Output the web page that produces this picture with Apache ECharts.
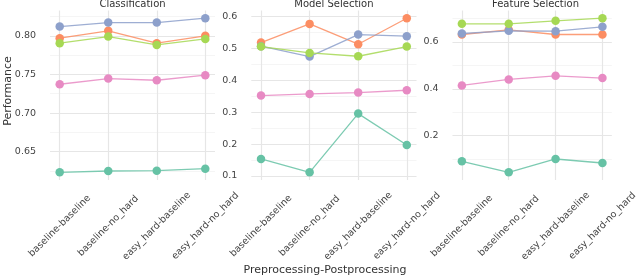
<!DOCTYPE html>
<html>
<head>
<meta charset="utf-8">
<script src="https://cdn.jsdelivr.net/npm/echarts@6/dist/echarts.min.js"></script>
<style>html,body{margin:0;padding:0;background:#fff}#c{width:640px;height:278px}</style>
</head>
<body>
<div id="c"></div>
<script>
const categories = ['baseline-baseline', 'baseline-no_hard', 'easy_hard-baseline', 'easy_hard-no_hard'];
const panelTitles = ['Classification', 'Model Selection', 'Feature Selection'];
const seriesNames = ['Series 1', 'Series 2', 'Series 3', 'Series 4', 'Series 5'];
const seriesColors = ['#66c2a5', '#fc8d62', '#8da0cb', '#e78ac3', '#a6d854'];

// Classification
const clsS1 = [0.6232, 0.6249, 0.6253, 0.6279];
const clsS2 = [0.7970, 0.8065, 0.7905, 0.8000];
const clsS3 = [0.8121, 0.8173, 0.8173, 0.8229];
const clsS4 = [0.7373, 0.7447, 0.7425, 0.7490];
const clsS5 = [0.7905, 0.7991, 0.7883, 0.7961];

// Model Selection
const msS1 = [0.1533, 0.1115, 0.2956, 0.1969];
const msS2 = [0.5184, 0.5770, 0.5132, 0.5948];
const msS3 = [0.5070, 0.4745, 0.5435, 0.5383];
const msS4 = [0.3520, 0.3573, 0.3615, 0.3688];
const msS5 = [0.5059, 0.4860, 0.4755, 0.5059];

// Feature Selection
const fsS1 = [0.0908, 0.0440, 0.1007, 0.0837];
const fsS2 = [0.6312, 0.6511, 0.6312, 0.6312];
const fsS3 = [0.6355, 0.6468, 0.6454, 0.6638];
const fsS4 = [0.4142, 0.4397, 0.4553, 0.4454];
const fsS5 = [0.6766, 0.6766, 0.6894, 0.7007];

// tick labels
const clsTicks = [0.65, 0.70, 0.75, 0.80];
const clsMinor = [0.625, 0.675, 0.725, 0.775, 0.825];
const msTicks = [0.1, 0.2, 0.3, 0.4, 0.5, 0.6];
const msMinor = [0.15, 0.25, 0.35, 0.45, 0.55];
const fsTicks = [0.2, 0.4, 0.6];
const fsMinor = [0.1, 0.3, 0.5, 0.7];

const panelData = [
  [clsS1, clsS2, clsS3, clsS4, clsS5],
  [msS1, msS2, msS3, msS4, msS5],
  [fsS1, fsS2, fsS3, fsS4, fsS5]
];
const panelTicks = [clsTicks, msTicks, fsTicks];
const panelMinor = [clsMinor, msMinor, fsMinor];
const panelDecimals = [2, 1, 1];

const gridBoxes = [
  {left: 50, width: 165},
  {left: 251.3, width: 165.2},
  {left: 452.5, width: 166}
];
const TOP = 10.5, HEIGHT = 169.5;
const FONT = 'DejaVu Sans';
const TEXT = '#444';

const grids = [], xAxes = [], yAxes = [], series = [], graphics = [];
panelData.forEach((sets, p) => {
  grids.push({left: gridBoxes[p].left, width: gridBoxes[p].width, top: TOP, height: HEIGHT, containLabel: false});
  let all = [].concat(...sets);
  let dmin = Math.min(...all), dmax = Math.max(...all), r = dmax - dmin;
  let ymin = dmin - 0.05 * r, ymax = dmax + 0.05 * r;
  xAxes.push({
    type: 'value', gridIndex: p, min: -0.2, max: 3.2,
    axisLine: {show: false},
    axisTick: {show: false, customValues: [0, 1, 2, 3]},
    splitLine: {show: true, lineStyle: {color: '#e6e6e6', width: 1.2}},
    axisLabel: {
      customValues: [0, 1, 2, 3],
      formatter: v => categories[Math.round(v)],
      rotate: 45, align: 'center', verticalAlign: 'middle', margin: 46,
      fontSize: 9.5, fontFamily: FONT, color: TEXT
    }
  });
  const dec = panelDecimals[p];
  yAxes.push({
    type: 'value', gridIndex: p, min: ymin, max: ymax, position: 'left',
    axisLine: {show: false},
    axisTick: {show: false, customValues: panelTicks[p]},
    splitLine: {show: true, lineStyle: {color: '#e6e6e6', width: 1.2}},
    axisLabel: {customValues: panelTicks[p], formatter: v => v.toFixed(dec), margin: 14,
      fontSize: 9.5, fontFamily: FONT, color: TEXT, showMinLabel: true, showMaxLabel: true}
  });
  yAxes.push({
    type: 'value', gridIndex: p, min: ymin, max: ymax, position: 'right',
    axisLine: {show: false},
    axisTick: {show: false, customValues: panelMinor[p]},
    splitLine: {show: true, lineStyle: {color: '#f1f1f1', width: 0.7}},
    axisLabel: {show: false}
  });
  sets.forEach((vals, s) => {
    series.push({
      name: seriesNames[s], type: 'line', xAxisIndex: p, yAxisIndex: 2 * p,
      data: vals.map((v, i) => [i, v]),
      symbol: 'circle', symbolSize: 8.5,
      itemStyle: {color: seriesColors[s]},
      lineStyle: {color: seriesColors[s], width: 1.3, opacity: 0.85},
      z: 2 + s, animation: false
    });
  });
  graphics.push({
    type: 'text', x: gridBoxes[p].left + gridBoxes[p].width / 2, y: 4.5,
    style: {text: panelTitles[p], fontSize: 10, fontFamily: FONT, fill: '#333', align: 'center', verticalAlign: 'middle'}
  });
});
graphics.push({
  type: 'text', x: 8.5, y: 91, rotation: Math.PI / 2,
  style: {text: 'Performance', fontSize: 11, fontFamily: FONT, fill: '#333', align: 'center', verticalAlign: 'middle'}
});
graphics.push({
  type: 'text', x: 325, y: 270,
  style: {text: 'Preprocessing-Postprocessing', fontSize: 11, fontFamily: FONT, fill: '#333', align: 'center', verticalAlign: 'middle'}
});

const chart = echarts.init(document.getElementById('c'), null, {renderer: 'canvas'});
chart.setOption({
  animation: false,
  backgroundColor: '#ffffff',
  grid: grids, xAxis: xAxes, yAxis: yAxes, series: series, graphic: graphics
});
</script>
</body>
</html>
